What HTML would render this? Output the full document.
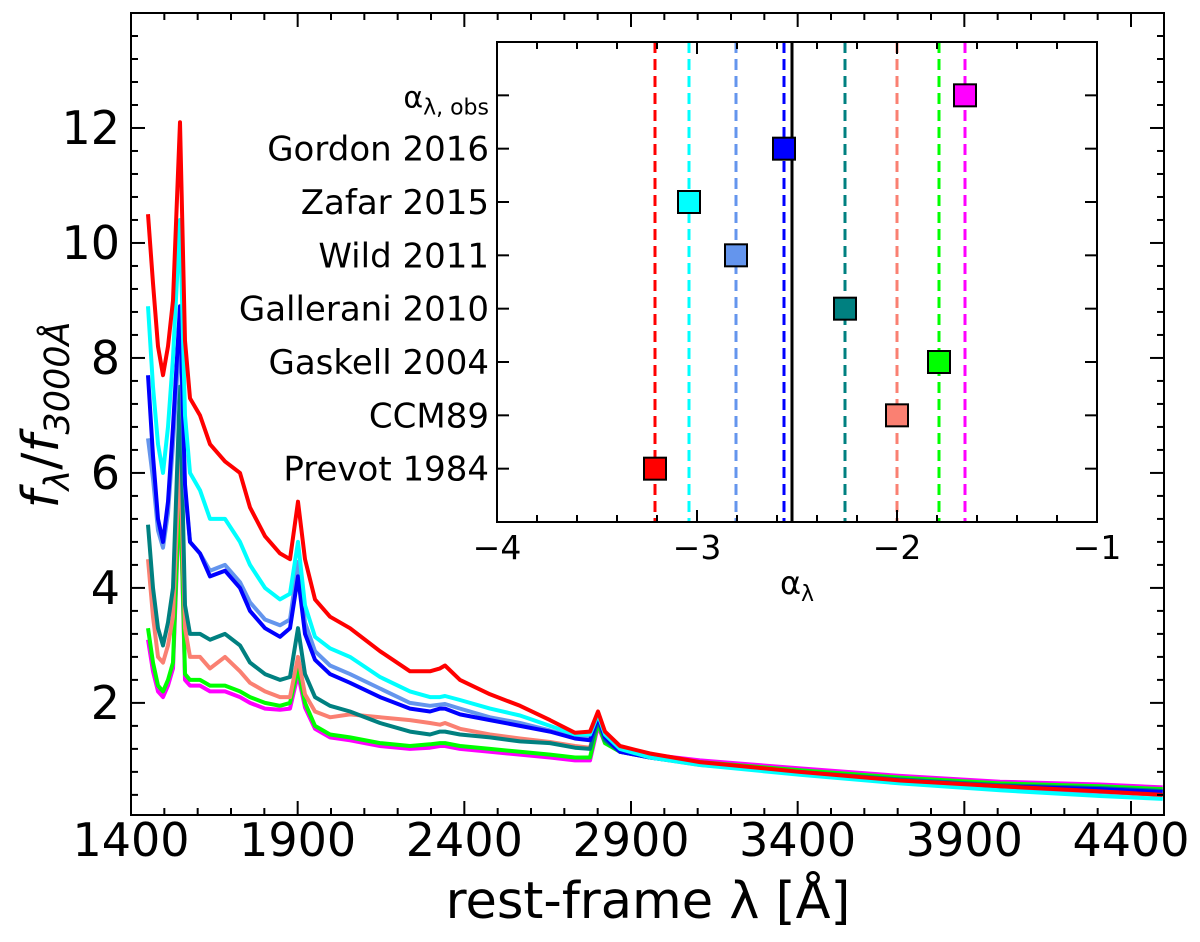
<!DOCTYPE html>
<html><head><meta charset="utf-8"><style>
html,body{margin:0;padding:0;background:#fff;}
svg{display:block;font-family:"DejaVu Sans","Liberation Sans",sans-serif;}
</style></head><body>
<svg id="chart" width="1200" height="942" viewBox="0 0 1200 942" xmlns="http://www.w3.org/2000/svg">
<g id="main"></g>
<g id="inset"></g>
<text x="648" y="918" font-size="51" text-anchor="middle">rest-frame λ [Å]</text>
<text transform="translate(58,415) rotate(-90)" font-size="51" text-anchor="middle"><tspan font-style="italic">f</tspan><tspan font-size="35" dy="11" font-style="italic">λ</tspan><tspan dy="-11">/</tspan><tspan font-style="italic">f</tspan><tspan font-size="35" dy="11" font-style="italic">3000Å</tspan></text>
</svg>
<script>
const wavelengths=[1451,1466,1481,1496,1511,1526,1547,1562,1577,1607,1637,1682,1727,1757,1802,1847,1877,1901,1922,1952,1997,2057,2147,2237,2297,2327,2342,2387,2477,2567,2657,2732,2777,2801,2822,2867,2957,3107,3407,3707,4007,4307,4495];
const fluxRed=[10.5,9.3,8.2,7.7,8.2,9.0,12.1,8.3,7.3,7.0,6.5,6.2,6.0,5.4,4.9,4.6,4.5,5.5,4.5,3.8,3.5,3.3,2.9,2.55,2.55,2.6,2.65,2.4,2.15,1.95,1.7,1.48,1.5,1.85,1.5,1.25,1.12,0.97,0.8,0.65,0.55,0.46,0.4];
const fluxCyan=[8.9,7.5,6.5,6.0,6.8,8.0,10.4,7.0,6.0,5.7,5.2,5.2,4.8,4.4,4.0,3.8,3.9,4.8,3.7,3.15,2.95,2.8,2.45,2.2,2.1,2.1,2.12,2.05,1.9,1.78,1.6,1.45,1.45,1.8,1.45,1.2,1.05,0.92,0.75,0.6,0.48,0.38,0.33];
const fluxCornflower=[6.6,5.9,5.0,4.7,5.3,6.5,8.5,5.7,4.8,4.6,4.3,4.4,4.1,3.75,3.45,3.35,3.45,4.45,3.4,2.9,2.65,2.5,2.25,2.0,1.95,1.97,1.98,1.9,1.75,1.65,1.52,1.4,1.4,1.78,1.42,1.17,1.05,0.93,0.77,0.63,0.52,0.45,0.4];
const fluxBlue=[7.7,6.3,5.2,4.8,5.5,6.8,8.9,5.8,4.8,4.6,4.2,4.3,4.0,3.6,3.3,3.15,3.3,4.2,3.2,2.75,2.5,2.35,2.1,1.9,1.85,1.9,1.9,1.8,1.7,1.6,1.5,1.38,1.35,1.75,1.4,1.15,1.05,0.93,0.78,0.65,0.55,0.5,0.45];
const fluxTeal=[5.1,4.0,3.3,3.0,3.4,4.0,7.5,3.7,3.2,3.2,3.1,3.2,3.0,2.7,2.5,2.4,2.45,3.3,2.5,2.1,1.95,1.85,1.65,1.5,1.45,1.5,1.5,1.45,1.4,1.33,1.3,1.22,1.2,1.7,1.35,1.15,1.05,0.93,0.8,0.67,0.57,0.52,0.47];
const fluxSalmon=[4.5,3.5,2.8,2.7,3.0,3.5,6.4,3.3,2.8,2.8,2.6,2.8,2.55,2.35,2.2,2.1,2.1,2.8,2.15,1.85,1.75,1.8,1.75,1.7,1.65,1.62,1.65,1.55,1.45,1.38,1.32,1.25,1.22,1.72,1.37,1.15,1.05,0.92,0.78,0.65,0.55,0.48,0.42];
const fluxGreen=[3.3,2.7,2.3,2.2,2.4,2.7,5.9,2.5,2.4,2.4,2.3,2.3,2.2,2.1,2.0,1.95,2.0,2.6,2.0,1.6,1.45,1.4,1.3,1.25,1.28,1.3,1.3,1.25,1.2,1.15,1.1,1.05,1.05,1.65,1.3,1.15,1.07,0.97,0.83,0.7,0.6,0.55,0.5];
const fluxMagenta=[3.1,2.55,2.2,2.1,2.3,2.6,5.8,2.4,2.3,2.3,2.2,2.2,2.1,2.0,1.9,1.88,1.9,2.5,1.92,1.55,1.4,1.35,1.25,1.2,1.22,1.25,1.25,1.2,1.15,1.1,1.05,1.0,1.0,1.6,1.3,1.17,1.1,1.0,0.86,0.73,0.63,0.58,0.53];
const xTickLabels=[1400,1900,2400,2900,3400,3900,4400];
const yTickLabels=[2,4,6,8,10,12];
const insetCategories=["Prevot 1984","CCM89","Gaskell 2004","Gallerani 2010","Wild 2011","Zafar 2015","Gordon 2016","obs"];
const insetAlpha=[-3.21,-2.0,-1.79,-2.26,-2.805,-3.04,-2.565,-1.66];
const insetObsLine=-2.525;
const insetXTicks=[-4,-3,-2,-1];

const NS="http://www.w3.org/2000/svg";
function el(tag,attrs,parent){const e=document.createElementNS(NS,tag);for(const k in attrs)e.setAttribute(k,attrs[k]);parent.appendChild(e);return e;}
const L=131,R=1164,T=13,B=815;
const X0=1400,X1=4499,Y0=0.05,Y1=14;
const sx=v=>L+(v-X0)/(X1-X0)*(R-L);
const sy=v=>B-(v-Y0)/(Y1-Y0)*(B-T);
const main=document.getElementById('main');
const colors=["#ff0000","#fa8072","#00ff00","#008080","#6495ed","#00ffff","#0000ff","#ff00ff"];
const seriesData=[fluxRed,fluxSalmon,fluxGreen,fluxTeal,fluxCornflower,fluxCyan,fluxBlue,fluxMagenta];
const seriesNames=["prevot-1984","ccm89","gaskell-2004","gallerani-2010","wild-2011","zafar-2015","gordon-2016","observed"];
const order=[7,2,1,3,4,6,5,0];
for(const i of order){
  const d=seriesData[i].map((v,j)=>(j?'L':'M')+sx(wavelengths[j]).toFixed(1)+','+sy(v).toFixed(1)).join('');
  const p=el('path',{d:d,fill:'none',stroke:colors[i],'stroke-width':4,'stroke-linejoin':'round'},main);
  
  
}
const frame=el('rect',{x:L,y:T,width:R-L,height:B-T,fill:'none',stroke:'#000','stroke-width':2},main);


for(let w=1400;w<=X1;w+=100){
  const x=sx(w),maj=(w-1400)%500===0,len=maj?14:7;
  el('line',{x1:x,y1:B,x2:x,y2:B-len,stroke:'#000','stroke-width':2},main);
  el('line',{x1:x,y1:T,x2:x,y2:T+len,stroke:'#000','stroke-width':2},main);
}
for(const t of xTickLabels){
  const tx=el('text',{x:sx(t),y:856,'font-size':46,'text-anchor':'middle'},main);
  tx.textContent=t;
  
  
}
for(let k=1;k<=34;k++){
  const v=k*0.4,y=sy(v);if(y<T)break;
  const maj=Math.abs(v/2-Math.round(v/2))<1e-6,len=maj?14:7;
  el('line',{x1:L,y1:y,x2:L+len,y2:y,stroke:'#000','stroke-width':2},main);
  el('line',{x1:R,y1:y,x2:R-len,y2:y,stroke:'#000','stroke-width':2},main);
}
for(const t of yTickLabels){
  const tx=el('text',{x:120,y:sy(t)+16,'font-size':46,'text-anchor':'end'},main);
  tx.textContent=t;
  
  
}
// inset
const ins=document.getElementById('inset');
const IL=497,IR=1097,IT=42,IB=522;
const ix=v=>IL+(v-(-4))/3*(IR-IL);
const iy=v=>IB-(v-(-1))/9*(IB-IT);
el('rect',{x:IL,y:IT,width:IR-IL,height:IB-IT,fill:'#fff',stroke:'none'},ins);
const insetColors=["#ff0000","#fa8072","#00ff00","#008080","#6495ed","#00ffff","#0000ff","#ff00ff"];
for(let i=0;i<insetAlpha.length;i++){
  const ln=el('line',{x1:ix(insetAlpha[i]),y1:IT,x2:ix(insetAlpha[i]),y2:IB,stroke:insetColors[i],'stroke-width':3,'stroke-dasharray':'11,6'},ins);
  
  
}
const bl=el('line',{x1:ix(insetObsLine),y1:IT,x2:ix(insetObsLine),y2:IB,stroke:'#000','stroke-width':3},ins);


for(let i=0;i<insetAlpha.length;i++){
  const m=el('rect',{x:ix(insetAlpha[i])-11,y:iy(i)-11,width:22,height:22,fill:insetColors[i],stroke:'#000','stroke-width':2},ins);
  
  
}
const ifr=el('rect',{x:IL,y:IT,width:IR-IL,height:IB-IT,fill:'none',stroke:'#000','stroke-width':2},ins);


for(let k=0;k<=15;k++){
  const v=-4+k*0.2,x=ix(v),len=(k%5===0)?12:7;
  el('line',{x1:x,y1:IB,x2:x,y2:IB-len,stroke:'#000','stroke-width':2},ins);
  el('line',{x1:x,y1:IT,x2:x,y2:IT+len,stroke:'#000','stroke-width':2},ins);
}
for(const t of insetXTicks){
  const tx=el('text',{x:ix(t),y:559,'font-size':33,'text-anchor':'middle'},ins);
  tx.textContent='\u2212'+Math.abs(t);
  
  
}
for(let i=0;i<insetCategories.length;i++){
  const y=iy(i);
  el('line',{x1:IL,y1:y,x2:IL+12,y2:y,stroke:'#000','stroke-width':2},ins);
  el('line',{x1:IR,y1:y,x2:IR-12,y2:y,stroke:'#000','stroke-width':2},ins);
  const tx=el('text',{x:489,y:y+12,'font-size':34,'text-anchor':'end'},ins);
  if(insetCategories[i]==='obs'){tx.setAttribute('font-size','30');tx.innerHTML='α<tspan font-size="22" dy="7">λ, obs</tspan>';}
  else tx.textContent=insetCategories[i];
  
  
}
const xl=el('text',{x:797,y:594,'font-size':32,'text-anchor':'middle'},ins);
xl.innerHTML='α<tspan font-size="22" dy="7">λ</tspan>';


</script>
</body></html>
